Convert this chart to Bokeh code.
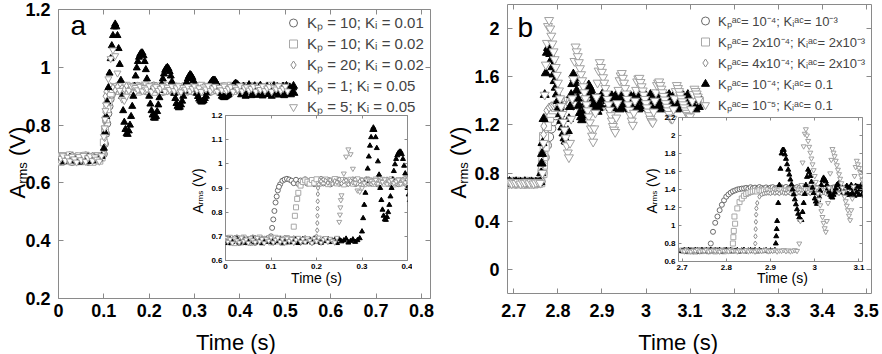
import numpy as np
from math import pi
from bokeh.models import (Plot, Range1d, LinearAxis, FixedTicker, Label, Legend, LegendItem,
                          CustomJSTickFormatter, ColumnDataSource, Scatter)
from bokeh.embed import file_html
from bokeh.resources import INLINE
from bokeh.core.properties import value

# ========================= DATA =========================
# series order: circles, squares, diamonds, up-triangles, down-triangles
A_T0 = 0.0
A_DT = 0.005
A_DT_FINE = 0.0025
A_STEPS = [0.10, 0.15, 0.20, 0.30, 0.25]
A_ALIGN = 0.10
a_labels = ["K\u209a = 10; K\u1d62 = 0.01", "K\u209a = 10; K\u1d62 = 0.02",
            "K\u209a = 20; K\u1d62 = 0.02", "K\u209a = 1; K\u1d62 = 0.05",
            "K\u209a = 5; K\u1d62 = 0.05"]

a_circ = [0.684, 0.693, 0.674, 0.690, 0.678, 0.695, 0.672, 0.686, 0.692, 0.675,
          0.689, 0.680, 0.695, 0.673, 0.687, 0.691, 0.676, 0.690, 0.681, 0.694,
          0.700, 0.770, 0.840, 0.890, 0.915, 0.930, 0.935, 0.938, 0.935, 0.930,
          0.920, 0.934, 0.917, 0.931, 0.922, 0.936, 0.918, 0.929, 0.933, 0.916,
          0.930, 0.924, 0.937, 0.919, 0.928, 0.934, 0.915, 0.931, 0.923, 0.936,
          0.918, 0.927, 0.933, 0.917, 0.930, 0.921, 0.935, 0.916, 0.929, 0.932,
          0.919, 0.926, 0.936, 0.918, 0.931, 0.922, 0.934, 0.915, 0.928, 0.933,
          0.920, 0.930, 0.917, 0.935, 0.924, 0.929, 0.916, 0.932, 0.921, 0.936,
          0.918, 0.927, 0.934, 0.919, 0.930, 0.923, 0.935, 0.916, 0.928, 0.933,
          0.920, 0.931]
a_circ_xe = [0.1025, 0.1075, 0.1125, 0.1175]
a_circ_ye = [0.735, 0.805, 0.865, 0.905]

a_sq = [0.690, 0.676, 0.694, 0.681, 0.672, 0.692, 0.684, 0.675, 0.695, 0.680,
        0.688, 0.673, 0.693, 0.678, 0.686, 0.695, 0.674, 0.689, 0.682, 0.692,
        0.675, 0.687, 0.694, 0.679, 0.690, 0.673, 0.685, 0.693, 0.677, 0.688,
        0.740, 0.820, 0.880, 0.910, 0.925, 0.932,
        0.926, 0.918, 0.933, 0.921, 0.936, 0.917, 0.929, 0.924, 0.935, 0.916,
        0.930, 0.922, 0.937, 0.919, 0.927, 0.933, 0.915, 0.931, 0.925, 0.934,
        0.918, 0.928, 0.936, 0.920, 0.930, 0.916, 0.933, 0.923, 0.929, 0.917,
        0.935, 0.921, 0.927, 0.934, 0.918, 0.931, 0.924, 0.936, 0.915, 0.929,
        0.932, 0.919, 0.926, 0.935, 0.921, 0.930, 0.917, 0.934, 0.923, 0.928,
        0.936, 0.918, 0.931, 0.925, 0.933, 0.916, 0.929, 0.922, 0.935, 0.920,
        0.927, 0.934, 0.917, 0.932, 0.924, 0.930, 0.915, 0.936, 0.921, 0.928,
        0.933, 0.919, 0.931, 0.926, 0.935, 0.918]
a_sq_xe = [0.1525, 0.1575]
a_sq_ye = [0.785, 0.855]

a_dia = [0.676, 0.692, 0.683, 0.673, 0.695, 0.679, 0.688, 0.674, 0.693, 0.681,
         0.690, 0.672, 0.686, 0.695, 0.677, 0.684, 0.692, 0.675, 0.689, 0.680,
         0.694, 0.673, 0.687, 0.691, 0.678, 0.685, 0.695, 0.674, 0.688, 0.682,
         0.693, 0.676, 0.690, 0.672, 0.686, 0.694, 0.679, 0.689, 0.675, 0.692,
         0.700,
         0.915, 0.928, 0.935, 0.930,
         0.921, 0.933, 0.917, 0.929, 0.924, 0.936, 0.919, 0.927, 0.932, 0.915,
         0.930, 0.923, 0.935, 0.918, 0.928, 0.934, 0.920, 0.926, 0.937, 0.917,
         0.931, 0.922, 0.933, 0.916, 0.929, 0.925, 0.936, 0.919, 0.927, 0.932,
         0.918, 0.930, 0.921, 0.935, 0.915, 0.928, 0.933, 0.920, 0.926, 0.934,
         0.917, 0.931, 0.924, 0.936, 0.919, 0.929, 0.922, 0.933, 0.916, 0.930,
         0.925, 0.935, 0.918, 0.927, 0.932, 0.921, 0.929, 0.936, 0.917, 0.926,
         0.934, 0.920, 0.931, 0.923, 0.935, 0.916, 0.928, 0.933, 0.919, 0.930,
         0.924, 0.936, 0.918, 0.927, 0.932, 0.921, 0.929]
a_dia_xe = [0.2015, 0.2018, 0.2021, 0.2024, 0.2027, 0.2030, 0.2033]
a_dia_ye = [0.725, 0.755, 0.785, 0.815, 0.845, 0.875, 0.900]

# up-triangles: baseline (coarse sampling) then response (fine sampling from its step)
a_tri_base = [0.680, 0.672, 0.688, 0.676, 0.684, 0.690, 0.674, 0.682, 0.687, 0.673,
              0.685, 0.679, 0.690, 0.675, 0.683, 0.688, 0.672, 0.681, 0.686, 0.677,
              0.689, 0.674, 0.684, 0.680, 0.690, 0.673, 0.682, 0.687, 0.676, 0.685,
              0.679, 0.689, 0.672, 0.683, 0.688, 0.675, 0.681, 0.686, 0.674, 0.690,
              0.678, 0.684, 0.673, 0.687, 0.680, 0.689, 0.676, 0.682, 0.685, 0.672,
              0.688, 0.679, 0.683, 0.690, 0.674, 0.681, 0.687, 0.677, 0.684, 0.692]
a_tri_resp = [0.720, 0.775, 0.830, 0.880, 0.930, 0.980, 1.030, 1.075, 1.110, 1.140,
              1.150, 1.140, 1.110, 1.065, 1.010, 0.955, 0.900, 0.850, 0.810, 0.785,
              0.770, 0.768, 0.780, 0.800, 0.830, 0.865, 0.900, 0.935, 0.970, 0.998,
              1.020, 1.035, 1.045, 1.050, 1.050, 1.040, 1.020, 0.992, 0.960, 0.930,
              0.900, 0.873, 0.850, 0.835, 0.825, 0.824, 0.830, 0.847, 0.870, 0.895,
              0.920, 0.942, 0.960, 0.977, 0.990, 0.997, 1.000, 0.995, 0.985, 0.970,
              0.950, 0.930, 0.910, 0.892, 0.875, 0.865, 0.860, 0.862, 0.870, 0.883,
              0.900, 0.918, 0.935, 0.948, 0.960, 0.969, 0.975, 0.972, 0.965, 0.954,
              0.940, 0.925, 0.910, 0.899, 0.890, 0.884, 0.880, 0.881, 0.885, 0.892,
              0.900, 0.912, 0.925, 0.936, 0.945, 0.951, 0.955, 0.956, 0.955, 0.948,
              0.940, 0.930, 0.920, 0.910, 0.900, 0.897, 0.895, 0.897, 0.900, 0.903,
              0.905, 0.912, 0.920, 0.928, 0.935, 0.941, 0.945, 0.943, 0.940, 0.935,
              0.930,
              0.905, 0.925, 0.935, 0.912, 0.900, 0.922, 0.930, 0.940, 0.915, 0.902,
              0.920, 0.928, 0.936, 0.910, 0.903, 0.925, 0.931, 0.938, 0.908, 0.901,
              0.918, 0.927, 0.913, 0.934, 0.906, 0.922, 0.930, 0.900, 0.917, 0.937,
              0.909, 0.926, 0.933, 0.904, 0.921, 0.929, 0.911, 0.935, 0.902, 0.919,
              0.937, 0.908, 0.924, 0.932, 0.905, 0.915, 0.929, 0.910]
a_tri_xe = []
a_tri_ye = []

a_dtri = [0.694, 0.678, 0.688, 0.672, 0.691, 0.683, 0.675, 0.695, 0.680, 0.687,
          0.673, 0.692, 0.684, 0.676, 0.694, 0.679, 0.689, 0.672, 0.690, 0.682,
          0.695, 0.675, 0.686, 0.693, 0.677, 0.688, 0.674, 0.692, 0.681, 0.690,
          0.673, 0.685, 0.694, 0.678, 0.689, 0.676, 0.692, 0.683, 0.672, 0.691,
          0.680, 0.695, 0.674, 0.687, 0.693, 0.677, 0.690, 0.682, 0.675, 0.694,
          0.760, 0.870, 0.960, 1.030, 1.060, 1.040, 0.980, 0.920, 0.890, 0.885,
          0.900, 0.920, 0.935, 0.935, 0.930,
          0.922, 0.934, 0.918, 0.930, 0.925, 0.936, 0.916, 0.928, 0.933, 0.920,
          0.927, 0.935, 0.917, 0.931, 0.923, 0.934, 0.919, 0.929, 0.936, 0.915,
          0.930, 0.924, 0.933, 0.918, 0.927, 0.935, 0.921, 0.929, 0.916, 0.932,
          0.925, 0.936, 0.919, 0.928, 0.934, 0.917, 0.930, 0.922, 0.935, 0.920,
          0.926, 0.933, 0.916, 0.931, 0.924, 0.936, 0.918, 0.929, 0.932, 0.921,
          0.927, 0.934, 0.917, 0.930, 0.923, 0.935, 0.919, 0.928, 0.933, 0.916,
          0.931, 0.925, 0.936, 0.920, 0.927, 0.934, 0.918]
a_dtri_xe = [0.2515, 0.2525, 0.2535]
a_dtri_ye = [0.790, 0.820, 0.850]

B_T0 = 2.70
B_DT = 0.005
B_DT_FINE = 0.0025
B_STEPS = [2.765, 2.815, 2.865, 2.915, 2.965]
B_ALIGN = 2.765
b_labels = ["K\u209a\u1d43\u1d9c= 10\u207b\u2074; K\u1d62\u1d43\u1d9c= 10\u207b\u00b3",
            "K\u209a\u1d43\u1d9c= 2x10\u207b\u2074; K\u1d62\u1d43\u1d9c= 2x10\u207b\u00b3",
            "K\u209a\u1d43\u1d9c= 4x10\u207b\u2074; K\u1d62\u1d43\u1d9c= 2x10\u207b\u00b3",
            "K\u209a\u1d43\u1d9c= 10\u207b\u2074; K\u1d62\u1d43\u1d9c= 0.1",
            "K\u209a\u1d43\u1d9c= 10\u207b\u2075; K\u1d62\u1d43\u1d9c= 0.1"]

b_circ = [0.720, 0.714, 0.726, 0.717, 0.723, 0.712, 0.727, 0.719, 0.715, 0.725,
          0.718, 0.722, 0.728,
          0.800, 0.930, 1.030, 1.100, 1.170, 1.230, 1.280, 1.320, 1.345, 1.365,
          1.380, 1.390, 1.400, 1.405, 1.410, 1.412,
          1.418, 1.410, 1.425, 1.414, 1.421, 1.408, 1.427, 1.416, 1.412, 1.423,
          1.409, 1.420, 1.426, 1.413, 1.418, 1.411, 1.424, 1.415, 1.428, 1.410,
          1.419, 1.422, 1.412, 1.426, 1.416, 1.409, 1.421, 1.414, 1.425, 1.411,
          1.418, 1.423, 1.408, 1.420, 1.427, 1.413, 1.417, 1.424, 1.410, 1.419,
          1.426, 1.412, 1.421, 1.415, 1.409, 1.423, 1.418, 1.411, 1.425, 1.414,
          1.420, 1.427, 1.413, 1.416, 1.422, 1.410]
b_circ_xe = []
b_circ_ye = []

b_sq = [0.722, 0.716, 0.727, 0.713, 0.720, 0.725, 0.711, 0.718, 0.726, 0.715,
        0.721, 0.728, 0.714, 0.719, 0.724, 0.712, 0.727, 0.717, 0.722, 0.713,
        0.726, 0.719, 0.724,
        0.800, 1.020, 1.190, 1.260, 1.300, 1.330, 1.350, 1.362, 1.372, 1.378,
        1.385, 1.378, 1.392, 1.381, 1.389, 1.376, 1.394, 1.383, 1.379, 1.390,
        1.377, 1.387, 1.393, 1.380, 1.386, 1.375, 1.391, 1.382, 1.395, 1.378,
        1.388, 1.384, 1.376, 1.392, 1.381, 1.389, 1.379, 1.394, 1.383, 1.377,
        1.390, 1.385, 1.380, 1.393, 1.378, 1.387, 1.382, 1.395, 1.376, 1.389,
        1.384, 1.391, 1.379, 1.386, 1.377, 1.392, 1.381, 1.388, 1.383, 1.394,
        1.378, 1.390, 1.385, 1.376, 1.393, 1.380, 1.387, 1.382, 1.391, 1.379,
        1.389, 1.384]
b_sq_xe = [2.8160, 2.8170, 2.8185]
b_sq_ye = [0.870, 0.940, 1.100]

b_dia = [0.718, 0.725, 0.712, 0.721, 0.727, 0.715, 0.723, 0.710, 0.726, 0.719,
         0.714, 0.724, 0.717, 0.728, 0.713, 0.720, 0.726, 0.716, 0.722, 0.711,
         0.727, 0.718, 0.724, 0.714, 0.721, 0.728, 0.715, 0.719, 0.725, 0.712,
         0.723, 0.717, 0.726, 0.730,
         1.250, 1.320, 1.345, 1.355, 1.360,
         1.364, 1.357, 1.370, 1.360, 1.367, 1.355, 1.372, 1.362, 1.358, 1.369,
         1.356, 1.366, 1.371, 1.359, 1.365, 1.357, 1.368, 1.361, 1.372, 1.356,
         1.367, 1.363, 1.358, 1.370, 1.360, 1.366, 1.355, 1.371, 1.362, 1.359,
         1.369, 1.364, 1.357, 1.372, 1.361, 1.367, 1.356, 1.370, 1.363, 1.358,
         1.368, 1.360, 1.371, 1.357, 1.365, 1.362, 1.355, 1.369, 1.364, 1.359,
         1.372, 1.361, 1.366, 1.356, 1.370, 1.363, 1.358, 1.367, 1.360, 1.371,
         1.357, 1.365, 1.362, 1.369, 1.359, 1.366]
b_dia_xe = [2.8655, 2.8660, 2.8665, 2.8670, 2.8675, 2.8680]
b_dia_ye = [0.800, 0.880, 0.960, 1.040, 1.120, 1.190]

b_tri_base = [0.716, 0.724, 0.712, 0.727, 0.719, 0.714, 0.725, 0.721, 0.711, 0.726,
              0.717, 0.723, 0.713, 0.728, 0.718, 0.722, 0.715, 0.726, 0.712, 0.720,
              0.727, 0.716, 0.724, 0.713, 0.719, 0.725, 0.711, 0.722, 0.728, 0.714,
              0.721, 0.726, 0.717, 0.723, 0.712, 0.727, 0.715, 0.720, 0.725, 0.713,
              0.722, 0.718, 0.726]
b_tri_resp = [1.050, 1.250, 1.450, 1.630, 1.800, 1.840, 1.840, 1.790, 1.740, 1.680,
              1.620, 1.565, 1.510, 1.455, 1.400, 1.345, 1.290, 1.235, 1.180, 1.130,
              1.090, 1.065, 1.060, 1.150, 1.250, 1.350, 1.450, 1.540, 1.620, 1.590,
              1.550, 1.485, 1.420, 1.360, 1.300, 1.265, 1.240, 1.280, 1.320, 1.385,
              1.450, 1.500, 1.530, 1.510, 1.490, 1.450, 1.410, 1.375, 1.340, 1.320,
              1.310, 1.340, 1.370, 1.410, 1.450, 1.460, 1.470, 1.450, 1.430, 1.400,
              1.370, 1.355, 1.340,
              1.440, 1.350, 1.420, 1.340, 1.450, 1.360, 1.410, 1.330, 1.440, 1.370,
              1.430, 1.340, 1.400, 1.450, 1.350, 1.420, 1.330, 1.440, 1.380, 1.410,
              1.340, 1.450, 1.360, 1.430, 1.330, 1.400, 1.450, 1.350, 1.420, 1.380,
              1.340, 1.440, 1.360, 1.430, 1.330, 1.450, 1.350, 1.410, 1.340, 1.440,
              1.370, 1.420, 1.330, 1.450, 1.360, 1.400, 1.340, 1.440, 1.380, 1.430,
              1.330, 1.410, 1.450, 1.350, 1.420, 1.340, 1.440, 1.370, 1.400, 1.330,
              1.450, 1.360, 1.430, 1.340, 1.410, 1.440, 1.350, 1.420, 1.330, 1.450,
              1.370, 1.400, 1.340, 1.440, 1.360, 1.430, 1.330, 1.410, 1.450, 1.350]
b_tri_xe = [2.9120, 2.9130, 2.9140]
b_tri_ye = [0.800, 0.880, 0.960]

b_dtri_base = [0.721, 0.714, 0.726, 0.718, 0.711, 0.724, 0.719, 0.728, 0.713, 0.722,
               0.716, 0.727, 0.712, 0.720, 0.725, 0.715, 0.723, 0.710, 0.726, 0.718,
               0.722, 0.714, 0.728, 0.717, 0.721, 0.712, 0.725, 0.719, 0.715, 0.727,
               0.713, 0.724, 0.718, 0.711, 0.726, 0.720, 0.716, 0.723, 0.728, 0.714,
               0.721, 0.717, 0.725, 0.712, 0.722, 0.719, 0.727, 0.715, 0.724, 0.713,
               0.720, 0.726, 0.718]
b_dtri_resp = [0.800, 1.050, 1.450, 1.700, 1.880, 2.020, 2.070, 2.000, 1.940, 1.875,
               1.810, 1.745, 1.680, 1.615, 1.550, 1.485, 1.420, 1.355, 1.290, 1.225,
               1.160, 1.095, 1.030, 0.970, 0.930, 1.050, 1.250, 1.420, 1.580, 1.730,
               1.850, 1.810, 1.770, 1.720, 1.670, 1.620, 1.570, 1.520, 1.470, 1.420,
               1.370, 1.320, 1.270, 1.220, 1.170, 1.110, 1.060, 1.170, 1.300, 1.430,
               1.550, 1.650, 1.720, 1.680, 1.640, 1.595, 1.550, 1.505, 1.460, 1.415,
               1.370, 1.325, 1.280, 1.235, 1.190, 1.160, 1.140, 1.260, 1.380, 1.490,
               1.570, 1.610, 1.630, 1.590, 1.550, 1.505, 1.460, 1.415, 1.370, 1.325,
               1.280, 1.235, 1.200, 1.300, 1.400, 1.490, 1.560, 1.585, 1.590, 1.555,
               1.520, 1.485, 1.450, 1.415, 1.380, 1.345, 1.310, 1.280, 1.250, 1.230,
               1.220, 1.310, 1.400, 1.470, 1.530, 1.550, 1.560, 1.530, 1.500, 1.470,
               1.440, 1.410, 1.380, 1.350, 1.320, 1.290, 1.260, 1.250, 1.250, 1.330,
               1.420, 1.480, 1.530, 1.505, 1.480, 1.450, 1.420, 1.395, 1.370, 1.345,
               1.320, 1.300, 1.280, 1.270, 1.270, 1.330, 1.400, 1.455, 1.500, 1.480,
               1.460, 1.435, 1.410]
b_dtri_xe = []
b_dtri_ye = []

a_xticks = [0, 0.1, 0.2, 0.3, 0.4, 0.5, 0.6, 0.7, 0.8]
a_yticks = [0.2, 0.4, 0.6, 0.8, 1.0, 1.2]
ia_xticks = [0, 0.1, 0.2, 0.3, 0.4]
ia_yticks = [0.6, 0.7, 0.8, 0.9, 1.0, 1.1, 1.2]
b_xticks = [2.7, 2.8, 2.9, 3.0, 3.1, 3.2, 3.3, 3.4, 3.5]
b_yticks = [0, 0.4, 0.8, 1.2, 1.6, 2.0]
ib_xticks = [2.7, 2.8, 2.9, 3.0, 3.1]
ib_yticks = [0.6, 0.8, 1.0, 1.2, 1.4, 1.6, 1.8, 2.0, 2.2]

# ========================= STYLE =========================
FONT = "Liberation Sans"
FRAME = "#8a8a8a"
MARKERS = ["circle", "square", "diamond", "triangle", "inverted_triangle"]
LINE_C = ["#6a6a6a", "#a8a8a8", "#8e8e8e", "#000000", "#a0a0a0"]
FILL_C = ["#ffffff", "#ffffff", "#ffffff", "#000000", "#ffffff"]

# page-pixel layout: figure box (L,T,W,H) and frame box (fl,fr,ft,fb)
SPEC_A = dict(L=0, T=0, W=441, H=354, fl=58, fr=430, ft=9, fb=298, xr=(0.0, 0.82), yr=(0.2, 1.2))
SPEC_B = dict(L=441, T=0, W=441, H=354, fl=507, fr=871, ft=4, fb=293, xr=(2.6855, 3.512), yr=(-0.2, 2.2))
SPEC_IA = dict(L=183, T=109, W=229, H=181, fl=225, fr=407, ft=115, fb=260, xr=(0.0, 0.4), yr=(0.6, 1.2))
SPEC_IB = dict(L=636, T=110, W=234, H=181, fl=678, fr=862, ft=117, fb=261, xr=(2.692, 3.108), yr=(0.6, 2.2))


def place(model, L, T):
    model.stylesheets = [f":host {{ position: absolute !important; left: {L}px !important; "
                         f"top: {T}px !important; margin: 0 !important; }}"]


def make_plot(s, xt, yt, tick_size, tick_len, xstand, ystand, transparent_border):
    p = Plot(width=s["W"], height=s["H"], x_range=Range1d(*s["xr"]), y_range=Range1d(*s["yr"]),
             min_border_left=s["fl"] - s["L"], min_border_right=s["L"] + s["W"] - s["fr"],
             min_border_top=s["ft"] - s["T"], min_border_bottom=s["T"] + s["H"] - s["fb"],
             title=None, toolbar_location=None, output_backend="svg", sizing_mode="fixed")
    p.outline_line_color = FRAME
    p.outline_line_width = 1
    p.background_fill_color = "white"
    if transparent_border:
        p.border_fill_alpha = 0
    else:
        p.border_fill_color = "white"
    fmt = CustomJSTickFormatter(code="return String(Math.round(tick*1000)/1000);")
    for loc, ticks, stand in (("below", xt, xstand), ("left", yt, ystand)):
        ax = LinearAxis(ticker=FixedTicker(ticks=ticks, minor_ticks=[]), formatter=fmt,
                        axis_line_color=None, major_tick_line_color=FRAME, major_tick_in=tick_len,
                        major_tick_out=0, minor_tick_line_color=None,
                        major_label_text_font=FONT, major_label_text_font_style="bold",
                        major_label_text_font_size=tick_size, major_label_text_color="black",
                        major_label_standoff=stand)
        p.add_layout(ax, loc)
    for loc, ticks in (("above", xt), ("right", yt)):
        ax = LinearAxis(ticker=FixedTicker(ticks=ticks, minor_ticks=[]), formatter=fmt,
                        axis_line_color=None, major_tick_line_color=FRAME, major_tick_in=tick_len,
                        major_tick_out=0, minor_tick_line_color=None,
                        major_label_text_font_size="1px", major_label_text_alpha=0,
                        major_label_standoff=0)
        p.add_layout(ax, loc)
    place(p, s["L"], s["T"])
    return p


def draw_series(p, series, steps, align, size, use_shift):
    rends = []
    for i, (segments, xe, ye) in enumerate(series):
        xs, ys = [], []
        for t0, dt, vals in segments:
            xs.append(t0 + dt * np.arange(len(vals)))
            ys.append(np.asarray(vals, dtype=float))
        xs.append(np.asarray(xe, dtype=float))
        ys.append(np.asarray(ye, dtype=float))
        x = np.concatenate(xs)
        y = np.concatenate(ys)
        if use_shift:
            x = x - (steps[i] - align)
        src = ColumnDataSource(dict(x=x, y=y))
        g = Scatter(x="x", y="y", marker=MARKERS[i], size=size, line_color=LINE_C[i],
                    fill_color=FILL_C[i], line_width=1)
        rends.append(p.add_glyph(src, g))
    return rends


def make_legend(labels, rends, loc, size, standoff):
    return Legend(items=[LegendItem(label=value(t), renderers=[r]) for t, r in zip(labels, rends)],
                  location=loc, glyph_width=20, glyph_height=21, label_height=21,
                  label_width=10, spacing=0, padding=0, margin=0, label_standoff=standoff,
                  label_text_font=FONT, label_text_font_size=size,
                  border_line_alpha=0, background_fill_alpha=0)


A_SERIES = [([(A_T0, A_DT, a_circ)], a_circ_xe, a_circ_ye),
            ([(A_T0, A_DT, a_sq)], a_sq_xe, a_sq_ye),
            ([(A_T0, A_DT, a_dia)], a_dia_xe, a_dia_ye),
            ([(A_T0, A_DT, a_tri_base), (A_STEPS[3], A_DT_FINE, a_tri_resp)], a_tri_xe, a_tri_ye),
            ([(A_T0, A_DT, a_dtri)], a_dtri_xe, a_dtri_ye)]
B_SERIES = [([(B_T0, B_DT, b_circ)], b_circ_xe, b_circ_ye),
            ([(B_T0, B_DT, b_sq)], b_sq_xe, b_sq_ye),
            ([(B_T0, B_DT, b_dia)], b_dia_xe, b_dia_ye),
            ([(B_T0, B_DT, b_tri_base), (B_STEPS[3], B_DT_FINE, b_tri_resp)], b_tri_xe, b_tri_ye),
            ([(B_T0, B_DT, b_dtri_base), (B_STEPS[4], B_DT_FINE, b_dtri_resp)], b_dtri_xe, b_dtri_ye)]

pa = make_plot(SPEC_A, a_xticks, a_yticks, "18px", 5, 5, 8, False)
ra = draw_series(pa, A_SERIES, A_STEPS, A_ALIGN, 7, True)
pa.add_layout(make_legend(a_labels, ra, (283 - 58, 298 - 116.5), "15px", 4))

pb = make_plot(SPEC_B, b_xticks, b_yticks, "18px", 5, 10, 8, False)
rb = draw_series(pb, B_SERIES, B_STEPS, B_ALIGN, 9, True)
pb.add_layout(make_legend(b_labels, rb, (695 - 507, 293 - 115.2), "13px", 3))

ia = make_plot(SPEC_IA, ia_xticks, ia_yticks, "8px", 3, 3, 3, True)
draw_series(ia, A_SERIES, A_STEPS, A_ALIGN, 5, False)

ib = make_plot(SPEC_IB, ib_xticks, ib_yticks, "8px", 3, 3, 3, True)
draw_series(ib, B_SERIES, B_STEPS, B_ALIGN, 5, False)

# text overlay in page pixels (its frame is the whole page)
ov = Plot(width=882, height=354, x_range=Range1d(0, 882), y_range=Range1d(354, 0),
          min_border_left=0, min_border_right=0, min_border_top=0, min_border_bottom=0,
          title=None, toolbar_location=None, output_backend="svg", sizing_mode="fixed")
ov.outline_line_color = None
ov.background_fill_alpha = 0
ov.border_fill_alpha = 0
place(ov, 0, 0)

MID = 0.3465  # distance from baseline to middle of the em box, in em


def put_text(px, py, text, size, angle=0.0, align="left", bold=False):
    if angle == 0.0:
        py = py - MID * size
    else:
        px = px - MID * size
    ov.add_layout(Label(x=px, y=py, text=text, text_font=FONT, text_font_size=f"{size}px",
                        text_font_style="bold" if bold else "normal", angle=angle,
                        text_align=align, text_baseline="middle", text_color="black"))


def ylabel(bx, by, size, sub):
    put_text(bx, by, "A", size, angle=pi / 2)
    y2 = by - 0.667 * size
    put_text(bx + 0.08 * size, y2, "rms", sub, angle=pi / 2)
    y3 = y2 - 1.666 * sub - 0.278 * size
    put_text(bx, y3, "(V)", size, angle=pi / 2)


put_text(70, 35, "a", 28)
put_text(517, 37, "b", 28)
put_text(235.5, 350, "Time (s)", 22, align="center")
put_text(677.7, 350, "Time (s)", 22, align="center")
put_text(316, 282, "Time (s)", 14, align="center")
put_text(782, 282, "Time (s)", 14, align="center")
ylabel(25, 198, 22, 13)
ylabel(466, 198, 22, 13)
ylabel(202, 213, 14, 8)
ylabel(656, 213, 14, 8)

open("out.html", "w").write(file_html([pa, pb, ia, ib, ov], INLINE))
